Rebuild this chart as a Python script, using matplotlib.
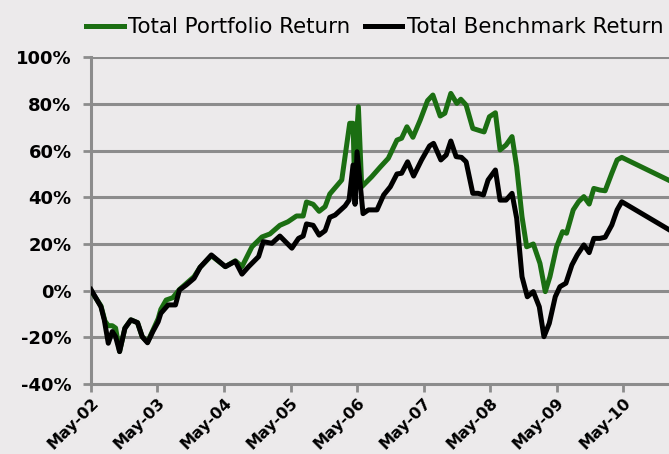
import matplotlib.pyplot as plt

# dates as decimal years, returns in %
port_dates = [2002.33, 2002.48, 2002.54, 2002.59, 2002.65, 2002.70, 2002.76, 2002.84, 2002.93, 2003.03,
              2003.10, 2003.18, 2003.26, 2003.34, 2003.38, 2003.46, 2003.56, 2003.66, 2003.76, 2003.88,
              2003.97, 2004.14, 2004.35, 2004.50, 2004.60, 2004.75, 2004.90, 2005.02, 2005.17, 2005.29,
              2005.42, 2005.52, 2005.57, 2005.67, 2005.76, 2005.85, 2005.92, 2006.10, 2006.22, 2006.27,
              2006.29, 2006.35, 2006.40, 2006.55, 2006.68, 2006.80, 2006.93, 2007.00, 2007.08, 2007.17,
              2007.28, 2007.39, 2007.47, 2007.58, 2007.65, 2007.74, 2007.83, 2007.89, 2007.97, 2008.07,
              2008.18, 2008.24, 2008.32, 2008.41, 2008.48, 2008.57, 2008.66, 2008.73, 2008.81, 2008.88,
              2008.98, 2009.08, 2009.16, 2009.23, 2009.33, 2009.42, 2009.48, 2009.58, 2009.66, 2009.74,
              2009.82, 2009.89, 2009.98, 2010.06, 2010.16, 2010.24, 2010.31, 2011.01]
port_ret = [0, -6.5, -13, -15, -15, -16, -26, -16, -12.5, -13.7,
            -19.7, -22, -17, -12, -8, -4, -3, 0.5, 3, 6,
            10, 15, 10.3, 12.8, 10.3, 18.8, 23, 24.3, 28, 29.5,
            32, 32, 38, 37, 34, 36, 41.4, 47.4, 71.7, 71.7,
            50, 78.8, 44.5, 48.8, 53, 56.7, 64.5, 65.3, 70.2, 65.7,
            73.1, 81.4, 83.8, 74.8, 76, 84.5, 80.2, 82, 79.5, 69.5,
            68.5, 68, 74.5, 76.2, 60.3, 62.4, 66, 53.1, 31.7, 18.8,
            20, 11.7, -0.4, 6, 18.8, 25.3, 24.6, 34.6, 38.1, 40.3,
            37.1, 43.8, 43.1, 42.8, 50.3, 56, 57.1, 47.4]

bench_dates = [2002.33, 2002.48, 2002.53, 2002.59, 2002.65, 2002.70, 2002.76, 2002.84, 2002.93, 2003.03,
               2003.10, 2003.18, 2003.26, 2003.34, 2003.38, 2003.49, 2003.60, 2003.66, 2003.76, 2003.88,
               2003.97, 2004.14, 2004.35, 2004.50, 2004.60, 2004.70, 2004.85, 2004.92, 2005.05, 2005.17,
               2005.35, 2005.45, 2005.52, 2005.57, 2005.67, 2005.76, 2005.85, 2005.92, 2006.00, 2006.15,
               2006.21, 2006.27, 2006.30, 2006.33, 2006.42, 2006.50, 2006.63, 2006.73, 2006.83, 2006.93,
               2007.00, 2007.09, 2007.18, 2007.30, 2007.42, 2007.48, 2007.59, 2007.67, 2007.74, 2007.82,
               2007.90, 2007.97, 2008.07, 2008.15, 2008.23, 2008.30, 2008.41, 2008.48, 2008.57, 2008.66,
               2008.73, 2008.81, 2008.89, 2008.98, 2009.07, 2009.14, 2009.22, 2009.31, 2009.38, 2009.47,
               2009.56, 2009.64, 2009.74, 2009.82, 2009.89, 2009.98, 2010.06, 2010.16, 2010.24, 2010.31,
               2011.01]
bench_ret = [0.5, -6.9, -12.5, -22.5, -17.5, -19.7, -26.1, -16.1, -12.5, -13.7,
             -19.7, -22.3, -17.5, -13.3, -9.7, -6.1, -6.1, 0.3, 2.4, 5.3,
             10, 15.3, 10.3, 12.6, 7.1, 10.3, 14.6, 21, 20.3, 23.4,
             18.2, 22.4, 23.4, 28.6, 28, 23.8, 25.7, 31.4, 32.4, 36.3,
             38.8, 53.8, 37, 59.5, 33, 34.6, 34.6, 41, 44.5, 50,
             50.3, 55.2, 49.1, 56, 62, 63.1, 56, 58.1, 64.1, 57.4,
             57.1, 55.2, 41.7, 41.7, 41, 47.4, 51.7, 38.8, 38.8, 41.7,
             31, 6, -2.6, -0.4, -6.9, -19.7, -14, -2.6, 1.7, 3.2,
             11, 15.3, 19.6, 16.3, 22.4, 22.4, 22.9, 28.1, 34.6, 38.1,
             26.3]

tick_years = [2002.33, 2003.33, 2004.33, 2005.33, 2006.33, 2007.33, 2008.33, 2009.33, 2010.33]
tick_labels = ['May-02', 'May-03', 'May-04', 'May-05', 'May-06', 'May-07', 'May-08', 'May-09', 'May-10']
y_ticks = [-40, -20, 0, 20, 40, 60, 80, 100]

bg = '#ECEAEB'
grid_c = '#8C8C8C'

fig = plt.figure(figsize=(6.69, 4.54), dpi=100, facecolor=bg)
ax = fig.add_axes([0.136, 0.154, 0.864, 0.72], facecolor=bg)

for v in y_ticks[1:]:
    ax.axhline(v, color=grid_c, lw=2.2, zorder=1)

ax.plot(port_dates, port_ret, color='#1B6E12', lw=3.6, label='Total Portfolio Return', zorder=3)
ax.plot(bench_dates, bench_ret, color='black', lw=3.6, label='Total Benchmark Return', zorder=4)

ax.set_xlim(2002.33, 2011.02)
ax.set_ylim(-40, 100)
ax.set_yticks(y_ticks)
ax.set_yticklabels([f'{v}%' for v in y_ticks])
ax.set_xticks(tick_years)
ax.set_xticklabels(tick_labels, rotation=45, ha='right', rotation_mode='anchor')

for s in ['top', 'right']:
    ax.spines[s].set_visible(False)
for s in ['left', 'bottom']:
    ax.spines[s].set_color(grid_c)
    ax.spines[s].set_linewidth(2.2)

ax.tick_params(axis='both', colors=grid_c, width=2, length=6, labelcolor='black')
ax.tick_params(axis='y', labelsize=13, pad=8)
ax.tick_params(axis='x', labelsize=11.5, pad=2)
for lab in ax.get_xticklabels() + ax.get_yticklabels():
    lab.set_fontweight('bold')

ax.legend(loc='lower right', bbox_to_anchor=(1.005, 1.035), ncol=2, frameon=False,
          fontsize=15.4, handlelength=1.75, handletextpad=0.2, columnspacing=0.7,
          borderaxespad=0.0)

fig.savefig('out.png', dpi=100, facecolor=bg)
